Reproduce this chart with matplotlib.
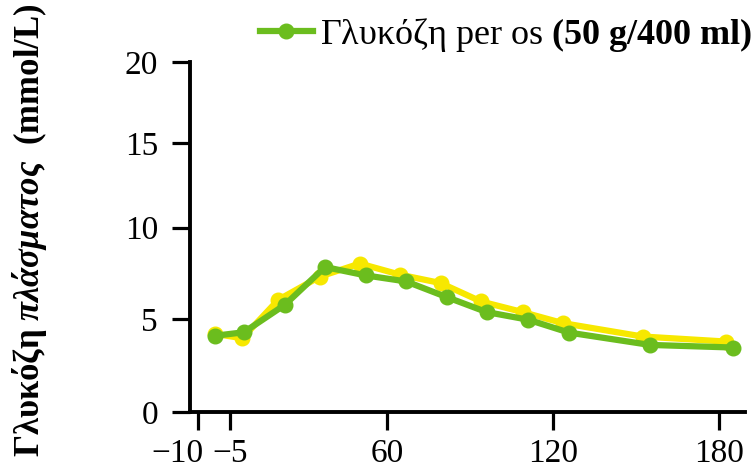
import numpy as np
import matplotlib
matplotlib.use("Agg")
import matplotlib.pyplot as plt
import matplotlib.transforms as mtrans
from matplotlib.lines import Line2D

plt.rcParams['font.family'] = ['Liberation Serif', 'DejaVu Serif']
plt.rcParams['mathtext.fontset'] = 'custom'
plt.rcParams['mathtext.rm'] = 'Liberation Serif'
plt.rcParams['mathtext.it'] = 'Liberation Serif:italic'
plt.rcParams['mathtext.bf'] = 'Liberation Serif:bold'
plt.rcParams['mathtext.bfit'] = 'Liberation Serif:bold:italic'

# minutes
green_t = [-2.2, 8.3, 23.1, 37.6, 52.3, 66.9, 81.6, 96.0, 111.1, 125.8, 155.0, 185.0]
green_v = [4.09, 4.28, 5.77, 7.84, 7.38, 7.05, 6.19, 5.37, 4.95, 4.26, 3.60, 3.46]
yellow_t = [-2.2, 7.7, 20.7, 35.8, 50.2, 64.7, 79.4, 94.0, 109.0, 123.5, 152.4, 182.5]
yellow_v = [4.19, 3.96, 6.04, 7.32, 8.03, 7.42, 6.96, 5.95, 5.37, 4.77, 4.05, 3.78]

xtick_pos = [-8.3, 3.3, 60, 120, 180]
xtick_labels = ['\u221210', '\u22125', '60', '120', '180']
yticks = [0, 5, 10, 15, 20]
# the y axis of the original is not quite even
ytick_px = [0, 93, 184, 268, 349.3]

GREEN = '#6bbd1e'
YELLOW = '#f7e800'


def yfwd(v):
    return np.interp(v, yticks, ytick_px)


def yinv(p):
    return np.interp(p, ytick_px, yticks)


fig = plt.figure(figsize=(7.56, 4.72), dpi=100)
ax = fig.add_axes([190 / 756, 1 - 412 / 472, 555 / 756, 350 / 472])

ax.plot(yellow_t, yellow_v, color=YELLOW, lw=4.5, marker='o', ms=10.5,
        solid_capstyle='round', zorder=2)
ax.plot(green_t, green_v, color=GREEN, lw=4.5, marker='o', ms=10.5,
        solid_capstyle='round', zorder=3)

ax.set_yscale('function', functions=(yfwd, yinv))
ax.set_ylim(0, 20)
ax.set_xlim(-11.2, 189.4)
ax.set_yticks(yticks)
ax.set_xticks(xtick_pos)
ax.set_xticklabels(xtick_labels)
ax.minorticks_off()

for s in ['top', 'right']:
    ax.spines[s].set_visible(False)
for s in ['left', 'bottom']:
    ax.spines[s].set_linewidth(2.8)
ax.tick_params(length=13, width=2.3, labelsize=24, color='black')
ax.tick_params(axis='y', pad=10)
ax.tick_params(axis='x', pad=6)
# the -10 label sits to the left of its tick
lbl = ax.get_xticklabels()[0]
lbl.set_horizontalalignment('right')
lbl.set_transform(lbl.get_transform() + mtrans.ScaledTranslation(0.05, 0, fig.dpi_scale_trans))

fig.text(30 / 756, 1 - 230 / 472,
         r'$\mathbf{Γλυκόζη}\ \mathbfit{πλάσματος}\ \ \mathbf{(mmol/L)}$',
         rotation=90, fontsize=25, ha='center', va='center')

handle = Line2D([], [], color=GREEN, lw=4.5, marker='o', ms=10.5)
fig.legend([handle], [r'Γλυκόζη per os $\mathbf{(50\ g/400\ ml)}$'],
           loc='center right', bbox_to_anchor=(752 / 756, 1 - 35 / 472),
           frameon=False, fontsize=26, handlelength=1.45, handletextpad=0.2,
           borderpad=0, borderaxespad=0)

fig.savefig('out.png', dpi=100)
